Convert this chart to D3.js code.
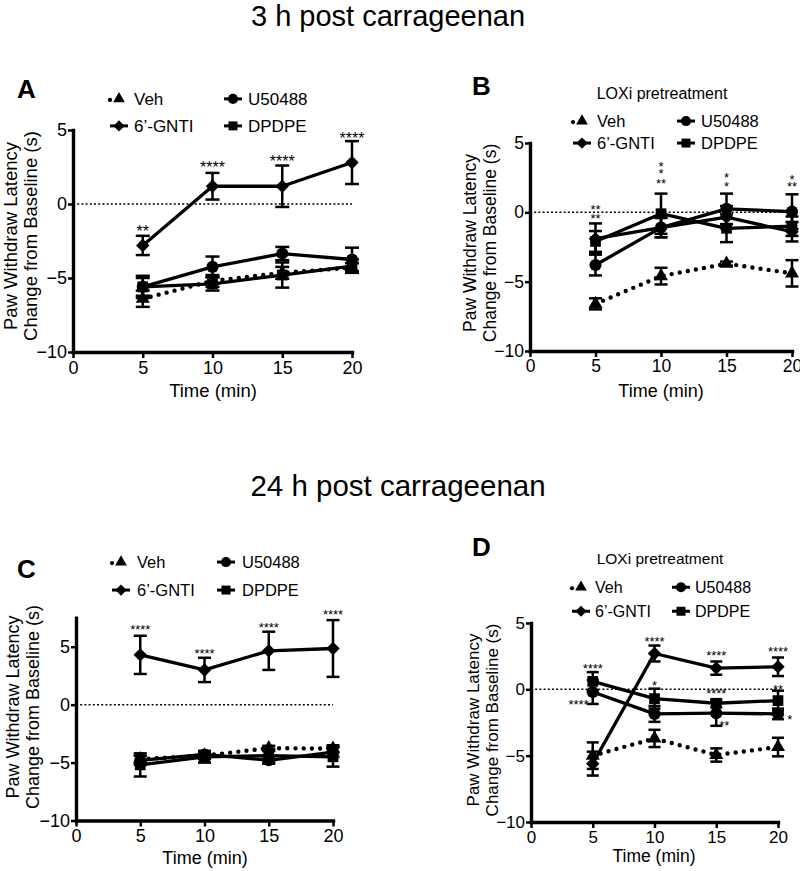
<!DOCTYPE html>
<html><head><meta charset="utf-8">
<script src="https://cdn.jsdelivr.net/npm/d3@7"></script>
<style>
body{margin:0;background:#fff}
text{font-family:"Liberation Sans",Arial,Helvetica,sans-serif;fill:#000}
</style>
</head><body>
<svg id="c" width="800" height="871"></svg>
<script>
// ---------------- DATA ----------------
const times = [5, 10, 15, 20];
const xTickValues = [0, 5, 10, 15, 20];
const yTickValues = [-10, -5, 0, 5];
const seriesNames = ["Veh", "U50488", "6\u2019-GNTI", "DPDPE"];
const sectionTitles = ["3 h post carrageenan", "24 h post carrageenan"];
const panelLetters = ["A", "B", "C", "D"];
const yLabelLines = ["Paw Withdraw Latency", "Change from Baseline (s)"];
const xLabelText = "Time (min)";
const subtitleText = "LOXi pretreatment";

// means / SEM in order: Veh, U50488, 6'-GNTI, DPDPE
const A_means = [[-6.4, -5.2, -4.65, -4.3], [-5.6, -4.25, -3.35, -3.75], [-2.8, 1.2, 1.2, 2.8], [-5.6, -5.4, -4.8, -4.2]];
const A_sems  = [[0.55, 0.4, 0.4, 0.3], [0.6, 0.7, 0.45, 0.8], [0.65, 0.9, 1.4, 1.45], [0.75, 0.45, 0.85, 0.45]];
const B_means = [[-6.6, -4.6, -3.7, -4.4], [-3.8, -1.1, 0.25, 0.05], [-1.9, -1.1, -0.35, -1.4], [-2.1, -0.1, -1.15, -1.0]];
const B_sems  = [[0.4, 0.6, 0.15, 0.95], [0.75, 0.7, 1.1, 1.25], [1.1, 0.7, 0.8, 0.7], [0.75, 1.45, 1.0, 0.7]];
const C_means = [[-4.7, -4.4, -3.75, -3.8], [-4.8, -4.3, -4.8, -4.1], [4.3, 3.0, 4.65, 4.85], [-5.2, -4.5, -4.4, -4.5]];
const C_sems  = [[0.3, 0.3, 0.2, 0.3], [0.4, 0.3, 0.3, 0.4], [1.65, 1.05, 1.65, 2.45], [1.0, 0.5, 0.6, 0.85]];
const D_means = [[-5.0, -3.7, -4.95, -4.35], [-0.2, -1.85, -1.8, -1.85], [-5.6, 2.7, 1.6, 1.7], [0.6, -0.7, -1.05, -0.85]];
const D_sems  = [[1.0, 0.65, 0.5, 0.7], [0.9, 0.6, 0.95, 0.4], [0.9, 0.6, 0.5, 0.7], [0.7, 0.75, 0.3, 0.75]];

// significance annotations: time, value (centre of label), label
const A_stars = [{t: 5, v: -1.6, s: "**"}, {t: 10, v: 2.75, s: "****"}, {t: 15, v: 3.1, s: "****"}, {t: 20, v: 4.65, s: "****"}];
const B_stars = [{t: 5, v: 0.4, s: "**"}, {t: 5, v: -0.25, s: "**"},
                 {t: 10, v: 3.5, s: "*"}, {t: 10, v: 3.0, s: "*"}, {t: 10, v: 2.3, s: "**"},
                 {t: 15, v: 2.7, s: "*"}, {t: 15, v: 2.05, s: "*"},
                 {t: 20, v: 2.6, s: "*"}, {t: 20, v: 2.05, s: "**"}];
const C_stars = [{t: 5, v: 6.75, s: "****"}, {t: 10, v: 4.65, s: "****"}, {t: 15, v: 6.95, s: "****"}, {t: 20, v: 8.05, s: "****"}];
const D_stars = [{t: 5, v: 1.8, s: "****"}, {t: 3.85, v: -0.95, s: "****"},
                 {t: 10, v: 3.85, s: "****"}, {t: 10, v: 0.55, s: "*"},
                 {t: 15, v: 2.8, s: "****"}, {t: 15, v: -0.05, s: "****"}, {t: 15.65, v: -2.5, s: "**"},
                 {t: 20, v: 3.1, s: "****"}, {t: 20, v: 0.25, s: "**"}, {t: 20.95, v: -2.05, s: "*"}];

// ---------------- LAYOUT ----------------
const layouts = [
  {x0: 73, x1: 352, yTop: 130, yBottom: 352, yMax: 5, tickFs: 18,
   legend: {cx: [119, 233], rows: [105, 132], fs: 17, toff: 15}, sub: null,
   ylab: {x: [17, 37], cy: 236, fs: 18.5}, xlab: {cx: 213, y: 397, fs: 18.5},
   letter: {x: 17, y: 98}, starFs: 16, cap: 14},
  {x0: 530, x1: 792, yTop: 143, yBottom: 351, yMax: 5, tickFs: 17.5,
   legend: {cx: [582, 686], rows: [127, 149], fs: 16.5, toff: 15}, sub: {cx: 662, y: 99, fs: 16},
   ylab: {x: [476, 496], cy: 243, fs: 17.5}, xlab: {cx: 661, y: 397, fs: 18},
   letter: {x: 472, y: 95}, starFs: 13, cap: 13},
  {x0: 76, x1: 333, yTop: 617.8, yBottom: 820.5, yMax: 7.5, tickFs: 18,
   legend: {cx: [121, 226], rows: [568, 596], fs: 16.5, toff: 16}, sub: null,
   ylab: {x: [19, 39], cy: 707, fs: 18}, xlab: {cx: 205, y: 864, fs: 18},
   letter: {x: 17, y: 578}, starFs: 13, cap: 13},
  {x0: 531, x1: 778, yTop: 623, yBottom: 822, yMax: 5, tickFs: 17,
   legend: {cx: [581, 681], rows: [593, 617], fs: 16, toff: 14}, sub: {cx: 660, y: 564, fs: 15.5},
   ylab: {x: [479, 498], cy: 720, fs: 17}, xlab: {cx: 654, y: 862, fs: 17.5},
   letter: {x: 472, y: 556}, starFs: 13, cap: 12}
];
const panelData = [
  {means: A_means, sems: A_sems, stars: A_stars},
  {means: B_means, sems: B_sems, stars: B_stars},
  {means: C_means, sems: C_sems, stars: C_stars},
  {means: D_means, sems: D_sems, stars: D_stars}
];

const svg = d3.select("#c");
svg.append("rect").attr("width", 800).attr("height", 871).attr("fill", "#fff");

svg.append("text").attr("x", 388).attr("y", 26).attr("text-anchor", "middle")
  .style("font-size", "29px").text(sectionTitles[0]);
svg.append("text").attr("x", 398).attr("y", 496).attr("text-anchor", "middle")
  .style("font-size", "29.5px").text(sectionTitles[1]);

// marker generators
const markerTypes = [
  {type: d3.symbolTriangle, size: 85, rot: 0},
  {type: d3.symbolCircle, size: 115, rot: 0},
  {type: d3.symbolSquare, size: 90, rot: 45},
  {type: d3.symbolSquare, size: 115, rot: 0}
];
function drawMarker(g, k, cx, cy, scale) {
  const m = markerTypes[k];
  g.append("path")
    .attr("d", d3.symbol().type(m.type).size(m.size * scale)())
    .attr("transform", `translate(${cx},${cy}) rotate(${m.rot})`)
    .attr("fill", "#000");
}

function drawPanel(L, D, idx) {
  const g = svg.append("g");
  const x = d3.scaleLinear().domain([0, 20]).range([L.x0, L.x1]);
  const y = d3.scaleLinear().domain([-10, L.yMax]).range([L.yBottom, L.yTop]);

  // zero reference line
  g.append("line").attr("x1", x(0)).attr("x2", x(20)).attr("y1", y(0)).attr("y2", y(0))
    .attr("stroke", "#000").attr("stroke-width", 1.5).attr("stroke-dasharray", "2,2.2");

  // axes
  const ax = g.append("g").attr("transform", `translate(0,${L.yBottom})`)
    .call(d3.axisBottom(x).tickValues(xTickValues).tickSize(6).tickSizeOuter(0).tickPadding(3));
  const ay = g.append("g").attr("transform", `translate(${L.x0},0)`)
    .call(d3.axisLeft(y).tickValues(yTickValues).tickSize(5).tickSizeOuter(0).tickPadding(1));
  [ax, ay].forEach(a => {
    a.select(".domain").attr("stroke-width", 3.4).attr("stroke-linecap", "square");
    a.selectAll(".tick line").attr("stroke-width", 2.5);
    a.selectAll(".tick text").style("font-size", L.tickFs + "px").attr("fill", "#000")
      .style("font-family", '"Liberation Sans",Arial,sans-serif');
  });

  // series lines
  const line = d3.line().x((d, i) => x(times[i])).y(d => y(d));
  D.means.forEach((ser, k) => {
    const p = g.append("path").attr("d", line(ser)).attr("fill", "none").attr("stroke", "#000");
    if (k === 0) p.attr("stroke-width", 4.4).attr("stroke-dasharray", "0,8.2").attr("stroke-linecap", "round");
    else p.attr("stroke-width", 3.3).attr("stroke-linejoin", "round");
  });

  // error bars
  D.means.forEach((ser, k) => {
    ser.forEach((m, i) => {
      const s = D.sems[k][i];
      const cx = x(times[i]);
      const eg = g.append("g").attr("stroke", "#000").attr("stroke-width", 2.5);
      eg.append("line").attr("x1", cx).attr("x2", cx).attr("y1", y(m - s)).attr("y2", y(m + s));
      [m - s, m + s].forEach(v => {
        eg.append("line").attr("x1", cx - L.cap / 2).attr("x2", cx + L.cap / 2).attr("y1", y(v)).attr("y2", y(v));
      });
    });
  });

  // markers
  D.means.forEach((ser, k) => {
    ser.forEach((m, i) => drawMarker(g, k, x(times[i]), y(m), 1));
  });

  // stars
  D.stars.forEach(st => {
    g.append("text").attr("x", x(st.t)).attr("y", y(st.v) + L.starFs * 0.58)
      .attr("text-anchor", "middle").style("font-size", L.starFs + "px").text(st.s);
  });

  // legend
  const lg = L.legend;
  const pos = [[0, 0], [1, 0], [0, 1], [1, 1]]; // Veh, U50488 / 6'-GNTI, DPDPE
  seriesNames.forEach((name, k) => {
    const cx = lg.cx[pos[k][0]];
    const base = lg.rows[pos[k][1]];
    const cy = base - lg.fs * 0.36;
    if (k === 0) {
      g.append("circle").attr("cx", cx - 9).attr("cy", cy + 1).attr("r", 2.1).attr("fill", "#000");
    } else {
      g.append("line").attr("x1", cx - 9).attr("x2", cx + 9).attr("y1", cy).attr("y2", cy)
        .attr("stroke", "#000").attr("stroke-width", 3);
    }
    drawMarker(g, k, cx, cy, 0.7);
    g.append("text").attr("x", cx + lg.toff).attr("y", base).style("font-size", lg.fs + "px").text(name);
  });
  if (L.sub) {
    g.append("text").attr("x", L.sub.cx).attr("y", L.sub.y).attr("text-anchor", "middle")
      .style("font-size", L.sub.fs + "px").text(subtitleText);
  }

  // axis titles
  yLabelLines.forEach((t, j) => {
    g.append("text").attr("transform", `translate(${L.ylab.x[j]},${L.ylab.cy}) rotate(-90)`)
      .attr("text-anchor", "middle").style("font-size", L.ylab.fs + "px").text(t);
  });
  g.append("text").attr("x", L.xlab.cx).attr("y", L.xlab.y).attr("text-anchor", "middle")
    .style("font-size", L.xlab.fs + "px").text(xLabelText);

  // panel letter
  g.append("text").attr("x", L.letter.x).attr("y", L.letter.y)
    .style("font-size", "26px").style("font-weight", "bold").text(panelLetters[idx]);
}

layouts.forEach((L, i) => drawPanel(L, panelData[i], i));
</script>
</body></html>
